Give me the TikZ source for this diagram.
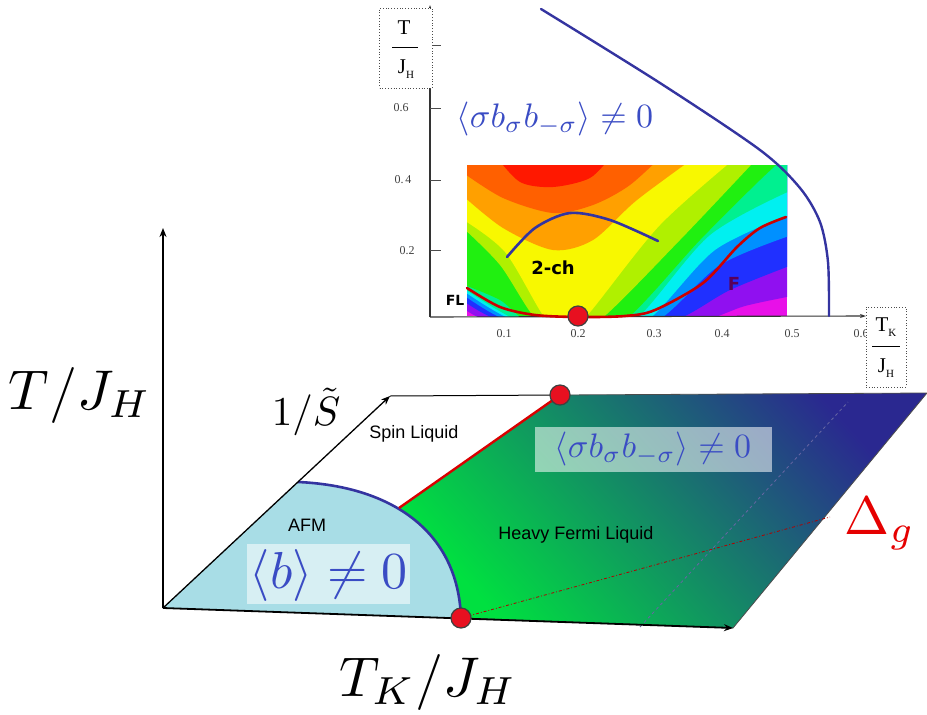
\documentclass[tikz,border=0pt]{standalone}
\usepackage{fontspec}
\usepackage{graphicx}
\usetikzlibrary{arrows.meta}
\newfontfamily\tnr{Liberation Serif}
\newfontfamily\arial{Liberation Sans}
\newfontfamily\comic{DejaVu Sans}
\definecolor{cMag}{HTML}{E810E8}
\definecolor{cPur}{HTML}{9010F0}
\definecolor{cBlue}{HTML}{2030FF}
\definecolor{cSky}{HTML}{0090FF}
\definecolor{cCyan}{HTML}{00F0F0}
\definecolor{cGC}{HTML}{00F090}
\definecolor{cGreen}{HTML}{20F010}
\definecolor{cYG}{HTML}{B0F000}
\definecolor{cYel}{HTML}{F8F800}
\definecolor{cOra}{HTML}{FFA000}
\definecolor{cOrR}{HTML}{FF6000}
\definecolor{cRed}{HTML}{FF1800}
\definecolor{navy}{HTML}{3434A0}
\definecolor{afm}{HTML}{A8DDE6}
\definecolor{gLo}{HTML}{00E040}
\definecolor{gMid}{HTML}{109A5A}
\definecolor{gHi}{HTML}{2A2890}
\definecolor{lblue}{HTML}{3A4CC4}
\definecolor{dotred}{HTML}{E81020}
\tikzset{
  bigaxis/.style={line width=1.8pt, -{Stealth[length=9pt,width=7pt]}},
  smallaxis/.style={line width=1.1pt, black!80, -{Stealth[length=6pt,width=4pt]}},
  reddot/.style={circle, fill=dotred, draw=black!75, line width=1.2pt, minimum size=20pt, inner sep=0pt},
  dotbox/.style={draw=black!70, dotted, line width=0.8pt, fill=white, inner sep=0pt, align=center},
  ticklab/.style={font=\tnr\fontsize{12}{12}\selectfont, text=black!75, inner sep=0pt},
  sanslab/.style={font=\arial\fontsize{18}{20}\selectfont, inner sep=0pt},
  comiclab/.style={font=\comic\bfseries\fontsize{18}{20}\selectfont, inner sep=0pt},
  mathlab/.style={inner sep=0pt},
  glassbox/.style={fill=white, fill opacity=0.55, text opacity=1, inner sep=0pt},
}
\begin{document}
\begin{tikzpicture}[x=1pt,y=-1pt]
\useasboundingbox (0,0) rectangle (927,715);

% ================= inset heat map =================
\begin{scope}
\clip (467,165) rectangle (787,316);
\fill[cMag] (467,165) rectangle (787,316);
\fill[cPur] (460,150) -- plot[smooth] coordinates {(462,307) (495,322) (600,324) (695,322) (745,306) (792,296)} -- (795,150) -- cycle;
\fill[cBlue] (460,150) -- plot[smooth] coordinates {(462,300) (505,322) (590,326) (670,322) (730,290) (792,265)} -- (795,150) -- cycle;
\fill[cSky] (460,150) -- plot[smooth] coordinates {(462,294) (512,322) (590,326) (655,322) (720,265) (792,235)} -- (795,150) -- cycle;
\fill[cCyan] (460,150) -- plot[smooth] coordinates {(462,290) (518,322) (590,326) (645,322) (715,250) (792,214)} -- (795,150) -- cycle;
\fill[cGC] (460,150) -- plot[smooth] coordinates {(462,287) (522,322) (590,326) (635,320) (710,235) (792,190)} -- (795,150) -- cycle;
\fill[cGreen] (460,150) -- plot[smooth] coordinates {(462,284) (500,300) (527,320) (580,326) (625,320) (700,240) (760,180) (795,148)} -- cycle;
\fill[cYG] (460,150) -- plot[smooth] coordinates {(462,227) (500,265) (537,320) (570,326) (600,320) (680,240) (765,150)} -- cycle;
\fill[cYel] (460,150) -- plot[smooth] coordinates {(462,219) (505,252) (545,318) (565,325) (585,318) (660,225) (745,150)} -- cycle;
\fill[cOra] (460,150) -- plot[smooth] coordinates {(462,195) (503,228) (553,250) (593,240) (637,200) (705,150)} -- cycle;
\fill[cOrR] (460,150) -- plot[smooth] coordinates {(462,172) (503,198) (553,213) (593,205) (630,185) (668,150)} -- cycle;
\fill[cRed] (493,150) -- plot[smooth] coordinates {(495,155) (520,182) (553,187) (590,178) (612,155)} -- (614,150) -- cycle;
\end{scope}

% inset axes
\coordinate (io) at (430,317);
\coordinate (iy) at (430,5);
\coordinate (ix) at (866,316);
\draw[smallaxis] (io) -- (iy);
\draw[smallaxis] (io) -- (ix);
\foreach \yy in {45,108,180,250} \draw[black!70, line width=0.8pt] (430,\yy) -- (441,\yy);
\node[ticklab] (t6) at (401,108) {0.6};
\node[ticklab] (t4) at (403,180) {0.\,4};
\node[ticklab] (t2) at (407,251) {0.2};
\node[ticklab] (x1) at (504,334) {0.1};
\node[ticklab] (x2) at (578,334) {0.2};
\node[ticklab] (x3) at (654,334) {0.3};
\node[ticklab] (x4) at (722,334) {0.4};
\node[ticklab] (x5) at (792,334) {0.5};
\node[ticklab] (x6) at (861,334) {0.6};

% inset curves
\draw[navy, line width=2.4pt, line cap=round] plot[smooth] coordinates {(541,9) (660,83) (760,150) (800,188) (820,222) (828,262) (829,316)};
\draw[navy, line width=2.6pt, line cap=round] plot[smooth] coordinates {(507,257) (535,228) (570,213) (610,220) (658,241)};
\draw[red!80!black, line width=2.6pt, line cap=round] plot[smooth] coordinates {(467,288) (500,307) (535,315) (578,317) (625,316) (655,310) (703,283) (737,247) (760,228) (786,217)};
\node[reddot] (idot) at (578,316) {};

% inset labels
\node[comiclab, font=\comic\bfseries\fontsize{14}{14}\selectfont] (fl) at (455,300) {FL};
\node[comiclab] (twoch) at (553,268) {2-ch};
\node[comiclab, text=violet!70!black] (ff) at (734,284) {F};
\node[mathlab, text=lblue] (isig) at (555,119) {\scalebox{3.4}{$\langle \sigma b_{\sigma} b_{-\sigma}\rangle \neq 0$}};

\node[dotbox, minimum width=53pt, minimum height=80pt] (ylab) at (406,48) {};
\node[inner sep=0pt, font=\tnr\fontsize{21}{21}\selectfont] (ylT) at (404,28) {T};
\draw[black, line width=0.8pt] (392,47) -- (418,47);
\node[inner sep=0pt, font=\tnr\fontsize{21}{21}\selectfont] (ylJ) at (406,69) {J\raisebox{-5pt}{\fontsize{11}{11}\selectfont H}};

\node[dotbox, minimum width=40pt, minimum height=80pt] (xlab) at (886,347) {};
\node[inner sep=0pt, font=\tnr\fontsize{21}{21}\selectfont] (xlT) at (886,327) {T\raisebox{-5pt}{\fontsize{11}{11}\selectfont K}};
\draw[black, line width=0.8pt] (872,346) -- (900,346);
\node[inner sep=0pt, font=\tnr\fontsize{21}{21}\selectfont] (xlJ) at (886,368) {J\raisebox{-5pt}{\fontsize{11}{11}\selectfont H}};

% ================= bottom phase diagram =================
\coordinate (O) at (163,608);
\coordinate (Ytop) at (163,228);
\coordinate (Xend) at (733,628);
\coordinate (Send) at (390,396);
\coordinate (TR) at (927,393);
\coordinate (afmA) at (298,482);
\coordinate (afmB) at (461,618);
\coordinate (redA) at (399,508);
\coordinate (topdot) at (560,395);

\shade[bottom color=gLo, middle color=gMid, top color=gHi, shading angle=-48, draw=black!70, line width=0.8pt]
  (redA) -- (topdot) -- (TR) -- (Xend) -- (afmB) -- cycle;
\fill[afm] (O) -- (afmA) .. controls (390,486) and (458,530) .. (afmB) -- cycle;

\draw[red!70!black, line width=0.8pt, dash dot] (afmB) -- (830,517);
\draw[black!60!blue!60, line width=0.8pt, dashed] (640,627) -- (848,402);

\draw[navy, line width=2.6pt] (afmA) .. controls (390,486) and (458,530) .. (afmB);
\draw[red!85!black, line width=2.4pt] (redA) -- (topdot);

\draw[black, line width=1pt] (Send) -- (topdot);
\draw[bigaxis] (O) -- (Ytop);
\draw[bigaxis] (O) -- (Xend);
\draw[line width=1.3pt, -{Stealth[length=9pt,width=7pt]}] (O) -- (Send);

\node[reddot] (dtop) at (topdot) {};
\node[reddot] (dbot) at (afmB) {};

% labels
\node[mathlab] (lT) at (80,395) {\scalebox{5.6}{$T/J_H$}};
\node[mathlab] (lTK) at (428,682) {\scalebox{5.6}{$T_K/J_H$}};
\node[mathlab] (lS) at (306,412) {\scalebox{4.1}{$1/\tilde{S}$}};
\node[mathlab, text=red!90!black] (lD) at (880,524) {\scalebox{5.4}{$\Delta_g$}};
\node[sanslab] (lsl) at (414,434) {Spin Liquid};
\node[sanslab] (lafm) at (307,525) {AFM};
\node[sanslab] (lhfl) at (576,535) {Heavy Fermi Liquid};
\node[glassbox, minimum width=163pt, minimum height=60pt] (bbox) at (328,574) {};
\node[mathlab, text=lblue] (lb) at (329,575) {\scalebox{5.2}{$\langle b\rangle \neq 0$}};
\node[glassbox, minimum width=237pt, minimum height=45pt] (sbox) at (653,449) {};
\node[mathlab, text=lblue] (ls) at (653,449) {\scalebox{3.4}{$\langle \sigma b_{\sigma} b_{-\sigma}\rangle \neq 0$}};
\end{tikzpicture}
\end{document}
